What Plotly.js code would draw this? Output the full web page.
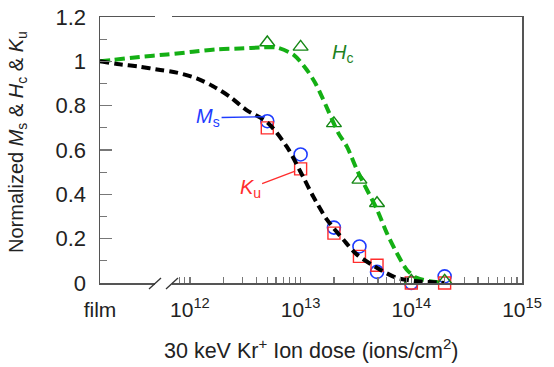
<!DOCTYPE html>
<html><head><meta charset="utf-8">
<script src="https://cdn.plot.ly/plotly-3.0.1.min.js"></script>
<style>html,body{margin:0;padding:0;background:#fff;}</style>
</head><body>
<div id="chart" style="width:554px;height:367px;"></div>
<script>
// position on the dose axis used for the un-irradiated "film" sample
const FILM_DOSE = 1.54e11;

// measured points
const doses = [FILM_DOSE, 5e12, 1e13, 2e13, 3.4e13, 4.9e13, 1e14, 2e14];
const Ms = [1, 0.73, 0.58, 0.25, 0.165, 0.05, 0.0, 0.03];
const Ku = [1, 0.70, 0.515, 0.225, 0.12, 0.08, 0.0, 0.0];
const Hc = [1, 1.085, 1.065, 0.72, 0.465, 0.36, 0.01, 0.01];

// guide-to-eye curves
const fitMsDose = [FILM_DOSE, 2.2e11, 3.5e11, 5.4e11, 7.6e11, 1.15e12, 1.6e12, 2.3e12, 3.25e12, 5.0e12, 7.5e12, 1.05e13, 1.3e13, 1.73e13, 2.44e13, 3.23e13, 5.24e13, 7.4e13, 1.12e14, 1.7e14, 2.0e14];
const fitMsVal = [1.0, 0.988, 0.976, 0.961, 0.949, 0.923, 0.889, 0.840, 0.780, 0.725, 0.615, 0.48, 0.39, 0.286, 0.195, 0.128, 0.060, 0.023, 0.008, 0.003, 0.0];
const fitHcDose = [FILM_DOSE, 2.0e11, 3.5e11, 6.2e11, 1.06e12, 1.74e12, 2.83e12, 4.56e12, 6.1e12, 8.65e12, 1.14e13, 1.36e13, 1.56e13, 1.79e13, 2.2e13, 2.62e13, 3.3e13, 4.9e13, 6.0e13, 7.4e13, 9.1e13, 1.12e14, 1.47e14, 2.0e14];
const fitHcVal = [1.0, 1.006, 1.02, 1.031, 1.043, 1.054, 1.058, 1.063, 1.062, 1.029, 0.961, 0.901, 0.840, 0.773, 0.675, 0.615, 0.50, 0.331, 0.226, 0.135, 0.06, 0.023, 0.008, 0.0];

// axis ticks
const xTickVals = [FILM_DOSE, 1e12, 1e13, 1e14, 1e15];
const xTickText = ['film', '10<sup>12</sup>', '10<sup>13</sup>', '10<sup>14</sup>', '10<sup>15</sup>'];
const yTickVals = [0, 0.2, 0.4, 0.6, 0.8, 1, 1.2];
const yTickText = ['0', '0.2', '0.4', '0.6', '0.8', '1', '1.2'];

const minorX = [8e11, 9e11];
[1e12, 1e13, 1e14].forEach(d => { for (let k = 2; k <= 9; k++) minorX.push(k * d); });

const BLUE = 'rgb(30,60,255)', RED = 'rgb(255,45,45)', GREEN_M = 'rgb(20,135,20)', GREEN_L = 'rgb(20,175,20)';
const FONT = 'Liberation Sans, Arial, sans-serif';

const traces = [
  {x: doses, y: Ms, mode: 'markers', type: 'scatter', cliponaxis: false,
   marker: {symbol: 'circle-open', size: 13, color: BLUE, line: {width: 1.6, color: BLUE}}},
  {x: doses, y: Ku, mode: 'markers', type: 'scatter', cliponaxis: false,
   marker: {symbol: 'square-open', size: 12, color: RED, line: {width: 1.4, color: RED}}},
  {x: doses, y: Hc, mode: 'markers', type: 'scatter', cliponaxis: false,
   marker: {symbol: 'triangle-up-open', size: 13, color: GREEN_M, line: {width: 1.4, color: GREEN_M}}},
  {x: fitHcDose, y: fitHcVal, mode: 'lines', type: 'scatter', cliponaxis: false,
   line: {color: GREEN_L, width: 4, dash: '10px,5px', shape: 'spline', smoothing: 0.8}},
  {x: fitMsDose, y: fitMsVal, mode: 'lines', type: 'scatter', cliponaxis: false,
   line: {color: '#000', width: 4, dash: '9px,5px', shape: 'spline', smoothing: 0.8}}
];

// break marks (paper coordinates)
const px = v => (v - 100) / 422, py = v => (283 - v) / 266;
const shapes = [
  {type: 'rect', xref: 'paper', yref: 'paper', x0: px(155), x1: px(172), y0: py(286), y1: py(280), fillcolor: '#fff', line: {width: 0}},
  {type: 'rect', xref: 'paper', yref: 'paper', x0: px(155), x1: px(172), y0: py(20), y1: py(14), fillcolor: '#fff', line: {width: 0}},
  {type: 'line', xref: 'paper', yref: 'paper', x0: px(149), y0: py(289), x1: px(161), y1: py(278), line: {color: '#333', width: 1.3}},
  {type: 'line', xref: 'paper', yref: 'paper', x0: px(166), y0: py(289), x1: px(178), y1: py(278), line: {color: '#333', width: 1.3}}
];

const annotations = [
  {x: Math.log10(doses[1]) - 0.02, y: Ms[1] + 0.02, xref: 'x', yref: 'y', text: '<i>M</i><sub>s</sub>',
   showarrow: true, arrowhead: 0, arrowwidth: 1.3, arrowcolor: BLUE, ax: -57, ay: 1, standoff: 0,
   font: {family: FONT, size: 20, color: BLUE}},
  {x: Math.log10(doses[2]) - 0.05, y: Ku[2] - 0.01, xref: 'x', yref: 'y', text: '<i>K</i><sub>u</sub>',
   showarrow: true, arrowhead: 0, arrowwidth: 1.3, arrowcolor: RED, ax: -45, ay: 17, standoff: 0,
   font: {family: FONT, size: 20, color: RED}},
  {x: px(342), y: py(53), xref: 'paper', yref: 'paper', xanchor: 'center', yanchor: 'middle',
   text: '<i>H</i><sub>c</sub>', showarrow: false,
   font: {family: FONT, size: 20, color: 'rgb(30,130,30)'}},
  // axis titles
  {x: px(17), y: py(142), xref: 'paper', yref: 'paper', textangle: -90, showarrow: false,
   xanchor: 'center', yanchor: 'middle',
   text: 'Normalized <i>M</i><sub>s</sub> &amp; <i>H</i><sub>c</sub> &amp; <i>K</i><sub>u</sub>',
   font: {family: FONT, size: 20, color: '#222'}},
  {x: 0.5, y: py(349), xref: 'paper', yref: 'paper', showarrow: false,
   xanchor: 'center', yanchor: 'middle',
   text: '30 keV Kr<sup>+</sup> Ion dose (ions/cm<sup>2</sup>)',
   font: {family: FONT, size: 21.5, color: '#222'}}
];

const layout = {
  width: 554, height: 367,
  margin: {l: 100, r: 32, t: 17, b: 84},
  paper_bgcolor: '#fff', plot_bgcolor: '#fff',
  showlegend: false,
  font: {family: FONT, size: 21, color: '#222'},
  xaxis: {
    type: 'log', range: [Math.log10(FILM_DOSE), 15],
    tickmode: 'array', tickvals: xTickVals, ticktext: xTickText,
    ticks: 'inside', ticklen: 6, tickwidth: 1.2, tickcolor: '#777',
    minor: {tickmode: 'array', tickvals: minorX, ticks: 'inside', ticklen: 6, tickwidth: 1.2, tickcolor: '#777', showgrid: false},
    showline: true, linecolor: '#555', linewidth: 1.5, mirror: true,
    showgrid: false, zeroline: false,
    tickfont: {family: FONT, size: 21, color: '#222'},
    ticklabelstandoff: 7
  },
  yaxis: {
    range: [0, 1.2], tickmode: 'array', tickvals: yTickVals, ticktext: yTickText,
    ticks: 'inside', ticklen: 12, tickwidth: 1.2, tickcolor: '#777',
    minor: {dtick: 0.1, tick0: 0, ticks: 'inside', ticklen: 7, tickwidth: 1.2, tickcolor: '#777', showgrid: false},
    showline: true, linecolor: '#555', linewidth: 1.5, mirror: true,
    showgrid: false, zeroline: false,
    tickfont: {family: FONT, size: 22, color: '#222'},
    ticklabelstandoff: 8
  },
  shapes: shapes,
  annotations: annotations
};

Plotly.newPlot('chart', traces, layout, {displayModeBar: false, staticPlot: true});
</script>
</body></html>
